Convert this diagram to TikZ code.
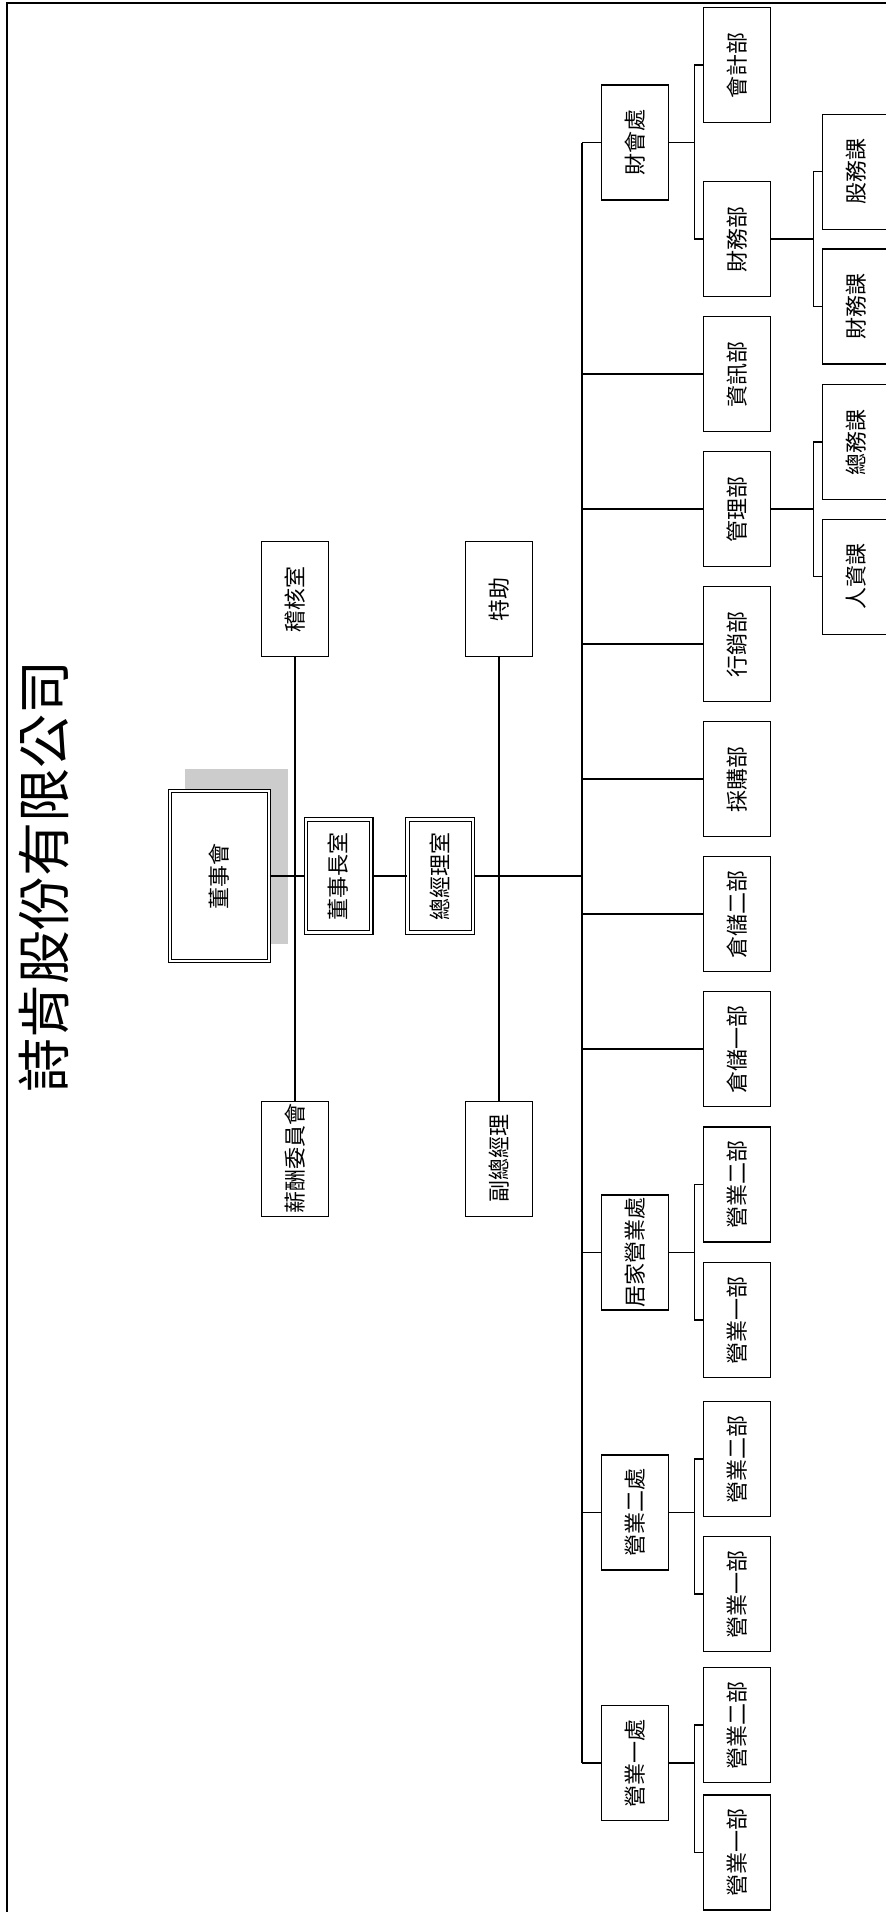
\documentclass[tikz,border=0pt]{standalone}
\usepackage{fontspec}
\setmainfont{Noto Sans CJK TC}
\definecolor{shadowgray}{HTML}{CCCCCC}
\newcommand{\vtxt}[1]{\rotatebox{90}{#1}}
\begin{document}
\begin{tikzpicture}[x=1pt,y=-1pt,
  box/.style={draw, line width=1.3pt, minimum width=67pt, minimum height=115pt,
    inner sep=0pt, fill=white, font=\fontsize{22}{22}\selectfont},
  dbox/.style={draw, double, double distance=2.2pt, line width=1.1pt, inner sep=0pt,
    fill=white, font=\fontsize{22}{22}\selectfont},
  conn/.style={line width=1.3pt},
  mainline/.style={line width=2pt}]
\useasboundingbox (0,0) rectangle (886,1912);
% frame
\draw[line width=2pt] (7,1930) -- (7,3) -- (900,3);
% title
\node[rotate=90, font=\fontsize{54}{54}\selectfont] (title) at (44,876) {詩肯股份有限公司};
% shadow of board box
\fill[shadowgray] (185,769) rectangle (288.3,944);
% central line coordinates
\coordinate (tTop) at (581.5,142.6);
\coordinate (tBot) at (581.5,1763);
% vertical side lines first
\node[box] (jhs) at (295,599) {\vtxt{稽核室}};
\node[box] (xc) at (295,1158.7) {\vtxt{薪酬委員會}};
\node[box] (tz) at (499,599) {\vtxt{特助}};
\node[box] (fzjl) at (499,1158.7) {\vtxt{副總經理}};
\draw[conn] (jhs.south) -- (xc.north);
\draw[conn] (tz.south) -- (fzjl.north);
% board and offices
\node[dbox, minimum width=99.2pt, minimum height=170.4pt] (dsh) at (219.5,876) {\vtxt{董事會}};
\node[dbox, minimum width=65.6pt, minimum height=113pt] (dszs) at (338.5,876) {\vtxt{董事長室}};
\node[dbox, minimum width=65.6pt, minimum height=113pt] (zjls) at (440.3,876) {\vtxt{總經理室}};
\draw[mainline] (dsh.east) -- (dszs.west);
\draw[conn] (dszs.east) -- (zjls.west);
\draw[mainline] (zjls.east) -- (zjls.east -| tTop);
% trunk
\draw[mainline] (tTop) -- (tBot);
% level 2
\node[box] (chc) at (635.2,142.6) {\vtxt{財會處}};
\node[box] (jjy) at (635.2,1252.5) {\vtxt{居家營業處}};
\node[box] (yy2c) at (635.2,1512.5) {\vtxt{營業二處}};
\node[box] (yy1c) at (635.2,1763) {\vtxt{營業一處}};
% level 3 column
\node[box] (kjb) at (737,65) {\vtxt{會計部}};
\node[box] (cwb) at (737,239) {\vtxt{財務部}};
\node[box] (zxb) at (737,374) {\vtxt{資訊部}};
\node[box] (glb) at (737,509) {\vtxt{管理部}};
\node[box] (xxb) at (737,644) {\vtxt{行銷部}};
\node[box] (cgb) at (737,779) {\vtxt{採購部}};
\node[box] (cc2) at (737,914) {\vtxt{倉儲二部}};
\node[box] (cc1) at (737,1049) {\vtxt{倉儲一部}};
\node[box] (jy2) at (737,1184.5) {\vtxt{營業二部}};
\node[box] (jy1) at (737,1320) {\vtxt{營業一部}};
\node[box] (ey2) at (737,1459) {\vtxt{營業二部}};
\node[box] (ey1) at (737,1594) {\vtxt{營業一部}};
\node[box] (yy2) at (737,1725) {\vtxt{營業二部}};
\node[box] (yy1) at (737,1852.5) {\vtxt{營業一部}};
% level 4 column
\node[box] (gwk) at (856,171.7) {\vtxt{股務課}};
\node[box] (cwk) at (856,306.6) {\vtxt{財務課}};
\node[box] (zwk) at (856,442) {\vtxt{總務課}};
\node[box] (rzk) at (856,576.7) {\vtxt{人資課}};
% trunk connectors
\foreach \n in {chc,jjy,yy2c,yy1c}{\draw[conn] (\n.west) -- (\n.west -| tTop);}
\foreach \n in {zxb,glb,xxb,cgb,cc2,cc1}{\draw[conn] (\n.west) -- (\n.west -| tTop);}
% brackets level 2 -> 3
\coordinate (b1) at (694.3,142.6);
\draw[conn] (chc.east) -- (b1);
\draw[conn] (kjb.west) -| (b1) |- (cwb.west);
\coordinate (b2) at (694.3,1252.5);
\draw[conn] (jjy.east) -- (b2);
\draw[conn] (jy2.west) -| (b2) |- (jy1.west);
\coordinate (b3) at (694.3,1512.5);
\draw[conn] (yy2c.east) -- (b3);
\draw[conn] (ey2.west) -| (b3) |- (ey1.west);
\coordinate (b4) at (694.3,1763);
\draw[conn] (yy1c.east) -- (b4);
\draw[conn] (yy2.west) -| (b4) |- (yy1.west);
% brackets level 3 -> 4
\coordinate (b5) at (813.3,239);
\draw[conn] (cwb.east) -- (b5);
\draw[conn] (gwk.west) -| (b5) |- (cwk.west);
\coordinate (b6) at (813.3,509);
\draw[conn] (glb.east) -- (b6);
\draw[conn] (zwk.west) -| (b6) |- (rzk.west);
\end{tikzpicture}
\end{document}
